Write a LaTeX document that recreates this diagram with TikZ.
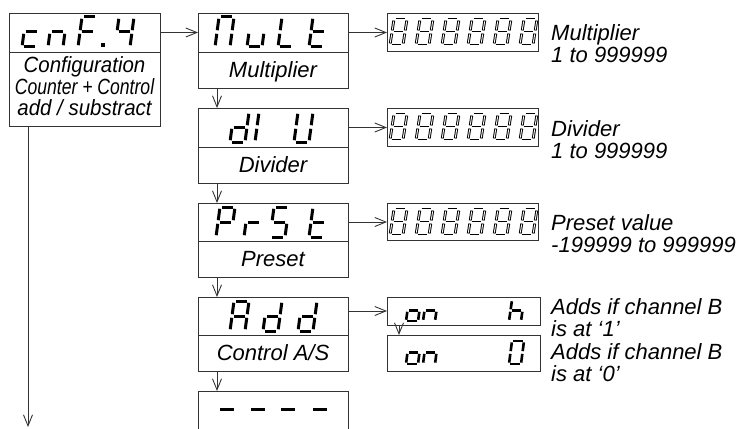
\documentclass[tikz,border=0pt]{standalone}
\usepackage{fontspec}
\setmainfont{Liberation Sans}
\usetikzlibrary{arrows.meta}
\definecolor{ink}{gray}{0.2}
\tikzset{
  boxn/.style={draw=ink, line width=0.9pt, inner sep=0pt, outer sep=0pt, minimum width=150pt},
  arr/.style={draw=ink, line width=0.9pt, -{Straight Barb[length=11pt,width=9pt,line width=0.9pt]}},
  lbl/.style={font=\itshape\fontsize{22}{24}\selectfont, inner sep=0pt, text=black},
  bseg/.style={line width=3pt, line cap=butt, draw=black},
  hseg/.style={line width=2.8pt, line cap=butt, draw=black},
  hsegin/.style={line width=0.9pt, line cap=butt, draw=white, shorten >=0.9pt, shorten <=0.9pt},
  noseg/.style={draw=none},
  tseg/.style={line width=2.6pt, line cap=butt, draw=black},
  dashseg/.style={line width=3pt, draw=black}
}
\newcommand\SEVa{\draw[curseg] (0.12,1)--(0.88,1);\draw[cursegin] (0.12,1)--(0.88,1);}
\newcommand\SEVb{\draw[curseg] (1,0.94)--(1,0.56);\draw[cursegin] (1,0.94)--(1,0.56);}
\newcommand\SEVc{\draw[curseg] (1,0.44)--(1,0.06);\draw[cursegin] (1,0.44)--(1,0.06);}
\newcommand\SEVd{\draw[curseg] (0.12,0)--(0.88,0);\draw[cursegin] (0.12,0)--(0.88,0);}
\newcommand\SEVe{\draw[curseg] (0,0.06)--(0,0.44);\draw[cursegin] (0,0.06)--(0,0.44);}
\newcommand\SEVf{\draw[curseg] (0,0.56)--(0,0.94);\draw[cursegin] (0,0.56)--(0,0.94);}
\newcommand\SEVg{\draw[curseg] (0.12,0.5)--(0.88,0.5);\draw[cursegin] (0.12,0.5)--(0.88,0.5);}
\newcommand\sevs[8]{\begin{scope}[shift={(#1,#2)},x={(#3pt,0pt)},y={(#5pt,#4pt)},curseg/.style={#7},cursegin/.style={#8}]\foreach \q in {#6}{\csname SEV\q\endcsname}\end{scope}}
\newcommand\bigd[3]{\sevs{#1}{#2}{15}{30}{4}{#3}{bseg}{noseg}}
\newcommand\smalld[2]{\sevs{#1}{#2}{13}{26}{4}{a,b,c,d,e,f,g}{hseg}{hsegin}}
\newcommand\tinyd[4]{\sevs{#1}{#2}{12}{#3}{3}{#4}{tseg}{noseg}}
\begin{document}
\begin{tikzpicture}[x=1pt,y=-1pt]
\useasboundingbox (0,0) rectangle (743,428);
% main column boxes
\node[boxn, minimum width=151pt, minimum height=39pt] (cnfT) at (84.5,32.5) {};
\node[boxn, minimum width=151pt, minimum height=74pt] (cnfB) at (84.5,89) {};
\node[boxn, minimum height=39pt] (multT) at (273,32.5) {};
\node[boxn, minimum height=36pt] (multB) at (273,70) {};
\node[boxn, minimum height=39pt] (divT) at (273,127.5) {};
\node[boxn, minimum height=36pt] (divB) at (273,165) {};
\node[boxn, minimum height=38pt] (prsT) at (273,222) {};
\node[boxn, minimum height=36pt] (prsB) at (273,259) {};
\node[boxn, minimum height=38pt] (addT) at (273,316) {};
\node[boxn, minimum height=36pt] (addB) at (273,353) {};
\draw[draw=ink, line width=0.9pt] (198,429) |- (348,391) -- (348,429);
\coordinate (dashtop) at (217,391);
\coordinate (leftend) at (28,427);
% value boxes
\node[boxn, minimum width=151pt, minimum height=38pt] (v1) at (462.5,32.5) {};
\node[boxn, minimum width=151pt, minimum height=38pt] (v2) at (462.5,127.5) {};
\node[boxn, minimum width=151pt, minimum height=37pt] (v3) at (462.5,222) {};
\node[boxn, minimum width=153pt, minimum height=28pt] (onh) at (463.5,311) {};
\node[boxn, minimum width=153pt, minimum height=36pt] (on0) at (463.5,353) {};
% labels in boxes
\node[lbl, anchor=base] (l1) at (84.5,72) {\scalebox{0.93}[1]{Configuration}};
\node[lbl, anchor=base] (l2) at (84.5,94) {\scalebox{0.8}[1]{Counter + Control}};
\node[lbl, anchor=base] (l3) at (84.5,115) {\scalebox{0.93}[1]{add / substract}};
\node[lbl, anchor=base] (lm) at (273,77) {Multiplier};
\node[lbl, anchor=base] (ld) at (273,172) {Divider};
\node[lbl, anchor=base] (lp) at (273,266) {Preset};
\node[lbl, anchor=base] (la) at (273,360) {Control A/S};
% right labels
\node[lbl, anchor=base west] (r1) at (551,41) {Multiplier};
\node[lbl, anchor=base west] (r2) at (551,63) {1 to 999999};
\node[lbl, anchor=base west] (r3) at (551,136) {Divider};
\node[lbl, anchor=base west] (r4) at (551,158) {1 to 999999};
\node[lbl, anchor=base west] (r5) at (551,230) {Preset value};
\node[lbl, anchor=base west] (r6) at (551,252) {-199999 to 999999};
\node[lbl, anchor=base west] (r7) at (551,314) {Adds if channel B};
\node[lbl, anchor=base west] (r8) at (551,336) {is at ‘1’};
\node[lbl, anchor=base west] (r9) at (551,359) {Adds if channel B};
\node[lbl, anchor=base west] (r10) at (551,381) {is at ‘0’};
% connectors
\draw[arr] (cnfT.east) -- (multT.west);
\draw[arr] (multT.east) -- (v1.west);
\draw[arr] (divT.east) -- (v2.west);
\draw[arr] (prsT.east) -- (v3.west);
\draw[arr] (addT.east |- onh.west) -- (onh.west);
\draw[arr] ([xshift=19pt]multB.south west) -- ([xshift=19pt]divT.north west);
\draw[arr] ([xshift=19pt]divB.south west) -- ([xshift=19pt]prsT.north west);
\draw[arr] ([xshift=19pt]prsB.south west) -- ([xshift=19pt]addT.north west);
\draw[arr] ([xshift=19pt]addB.south west) -- (dashtop);
\draw[arr] ([xshift=12pt]onh.south west) -- ([xshift=12pt]on0.north west);
\draw[arr] ([xshift=19pt]cnfB.south west) -- (leftend);
% seven segment: cnF.4
\bigd{22}{47}{g,e,d}
\bigd{48}{47}{g,e,c}
\bigd{78}{47}{a,f,e,g}
\fill (101,43.5) rectangle (104.5,47);
\bigd{115}{47}{f,g,b,c}
% Mult
\bigd{215}{47}{a,b,c,e,f}
\bigd{247}{47}{e,d,c}
\bigd{278}{47}{f,e,d}
\bigd{309}{47}{f,e,d,g}
% dIU
\bigd{230}{142}{b,c,d,e,g}
\bigd{255}{142}{e,f}
\bigd{294}{142}{b,c,d,e,f}
% PrSt
\bigd{216}{237}{a,b,f,g,e}
\bigd{244}{237}{g,e}
\bigd{270}{237}{a,f,g,c,d}
\bigd{309}{237}{f,e,d,g}
% Add
\bigd{230}{331}{a,b,c,e,f,g}
\bigd{263}{331}{b,c,d,e,g}
\bigd{298}{331}{b,c,d,e,g}
% dashes
\foreach \cx in {227,258,288,320} {\draw[dashseg] (\cx-7,409) -- (\cx+7,409);}
% 888888
\foreach \i in {0,...,5} {\smalld{390+26*\i}{45}}
\foreach \i in {0,...,5} {\smalld{390+26*\i}{140}}
\foreach \i in {0,...,5} {\smalld{390+26*\i}{235}}
% on h / on 0
\tinyd{406}{321}{21}{g,c,d,e}
\tinyd{423}{321}{21}{g,e,c}
\tinyd{509}{321}{21}{f,e,g,c}
\tinyd{406}{364}{23}{g,c,d,e}
\tinyd{423}{364}{23}{g,e,c}
\tinyd{509}{364}{23}{a,b,c,d,e,f}
\end{tikzpicture}
\end{document}
